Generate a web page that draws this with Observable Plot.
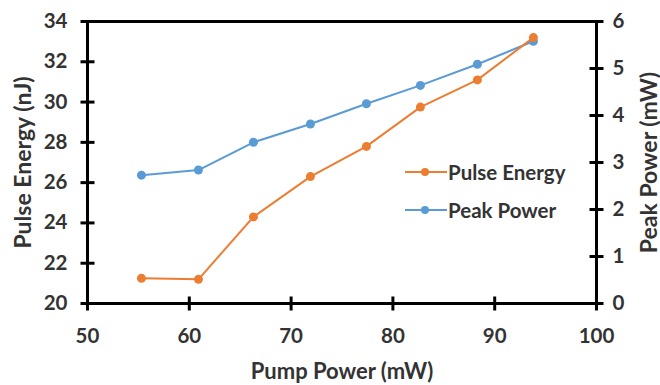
<!DOCTYPE html>
<html>
<head>
<meta charset="utf-8">
<script src="https://cdn.jsdelivr.net/npm/d3@7"></script>
<script src="https://cdn.jsdelivr.net/npm/@observablehq/plot@0.6"></script>
<style>
  html, body { margin: 0; padding: 0; background: #fff; }
  #wrap { position: relative; width: 660px; height: 385px; font-family: Lato, "Open Sans", sans-serif; }
  #legend { position: absolute; left: 405px; top: 153px; font-size: 20.5px; font-weight: bold; color: #333; }
  .item { display: flex; align-items: center; height: 38px; }
  .item svg { margin-right: 1px; }
</style>
</head>
<body>
<div id="wrap"></div>
<script>
// Data
const pumpPower   = [55.3, 60.9, 66.3, 71.9, 77.4, 82.7, 88.3, 93.8];      // mW
const pulseEnergy = [21.25, 21.2, 24.3, 26.3, 27.8, 29.75, 31.1, 33.2];    // nJ
const peakPower   = [2.73, 2.84, 3.43, 3.82, 4.25, 4.64, 5.09, 5.58];      // mW
const xTicks = [50, 60, 70, 80, 90, 100];
const leftTicks = [20, 22, 24, 26, 28, 30, 32, 34];
const rightTicks = [0, 1, 2, 3, 4, 5, 6];
const seriesNames = ["Pulse Energy", "Peak Power"];
const seriesColors = ["#ED7D31", "#5B9BD5"];
const xTitle = "Pump Power (mW)";
const leftTitle = "Pulse Energy (nJ)";
const rightTitle = "Peak Power (mW)";

const leftDomain = [20, 34];
const rightDomain = [0, 6];
// map right-axis value into left-axis units (dual axis)
const toLeft = v => leftDomain[0] + (v - rightDomain[0]) * (leftDomain[1] - leftDomain[0]) / (rightDomain[1] - rightDomain[0]);
const fromLeft = v => rightDomain[0] + (v - leftDomain[0]) * (rightDomain[1] - rightDomain[0]) / (leftDomain[1] - leftDomain[0]);

const energyData = pumpPower.map((x, i) => ({x, y: pulseEnergy[i]}));
const peakData = pumpPower.map((x, i) => ({x, y: peakPower[i]}));

const ink = "#333";
const axisStroke = "#000";
// tick symbols crossing the axis line (length 2r)
const hTick = { draw(ctx, size) { const r = Math.sqrt(size / Math.PI); ctx.moveTo(-r, 0); ctx.lineTo(r, 0); } };
const vTick = { draw(ctx, size) { const r = Math.sqrt(size / Math.PI); ctx.moveTo(0, -r); ctx.lineTo(0, r); } };

const chart = Plot.plot({
  width: 660,
  height: 385,
  marginLeft: 87,
  marginRight: 64,
  marginTop: 21,
  marginBottom: 82,
  style: { fontFamily: "Lato, 'Open Sans', sans-serif", fontSize: "20.5px", fontWeight: "bold", color: ink, background: "#fff" },
  x: { domain: [50, 100] },
  y: { domain: leftDomain },
  marks: [
    Plot.axisY({ anchor: "left", ticks: leftTicks, tickSize: 0, tickPadding: 20, label: null }),
    Plot.axisY({ anchor: "right", ticks: rightTicks.map(toLeft), tickSize: 0, tickPadding: 16,
      tickFormat: d => String(Math.round(fromLeft(d))), label: null }),
    Plot.axisX({ anchor: "bottom", ticks: xTicks, tickSize: 0, tickPadding: 25, label: null }),
    Plot.frame({ stroke: axisStroke, strokeWidth: 3 }),
    // axis tick marks crossing the axis lines
    Plot.dot(leftTicks, { y: d => d, frameAnchor: "left", symbol: hTick, r: 7, stroke: axisStroke, strokeWidth: 3 }),
    Plot.dot(rightTicks, { y: d => toLeft(d), frameAnchor: "right", symbol: hTick, r: 7, stroke: axisStroke, strokeWidth: 3 }),
    Plot.dot(xTicks, { x: d => d, frameAnchor: "bottom", symbol: vTick, r: 7, stroke: axisStroke, strokeWidth: 3 }),
    // axis titles
    Plot.text([leftTitle], { text: d => d, frameAnchor: "left", textAnchor: "middle", rotate: -90, dx: -57, lineAnchor: "bottom", fill: ink, fontSize: 23 }),
    Plot.text([rightTitle], { text: d => d, frameAnchor: "right", textAnchor: "middle", rotate: -90, dx: 60, lineAnchor: "bottom", fill: ink, fontSize: 23 }),
    Plot.text([xTitle], { text: d => d, frameAnchor: "bottom", textAnchor: "middle", dy: 75, lineAnchor: "bottom", fill: ink, fontSize: 22 }),
    // series
    Plot.line(peakData, { x: "x", y: d => toLeft(d.y), stroke: seriesColors[1], strokeWidth: 2 }),
    Plot.dot(peakData, { x: "x", y: d => toLeft(d.y), r: 4.5, fill: seriesColors[1], stroke: "none" }),
    Plot.line(energyData, { x: "x", y: "y", stroke: seriesColors[0], strokeWidth: 2 }),
    Plot.dot(energyData, { x: "x", y: "y", r: 4.5, fill: seriesColors[0], stroke: "none" })
  ]
});

const wrap = document.getElementById("wrap");
wrap.appendChild(chart);

// legend
const legend = document.createElement("div");
legend.id = "legend";
seriesNames.forEach((name, i) => {
  const item = document.createElement("div");
  item.className = "item";
  item.innerHTML = `<svg width="42" height="12"><line x1="0" x2="42" y1="6" y2="6" stroke="${seriesColors[i]}" stroke-width="2"/><circle cx="20" cy="6" r="4" fill="${seriesColors[i]}"/></svg><span>${name}</span>`;
  legend.appendChild(item);
});
wrap.appendChild(legend);
</script>
</body>
</html>
